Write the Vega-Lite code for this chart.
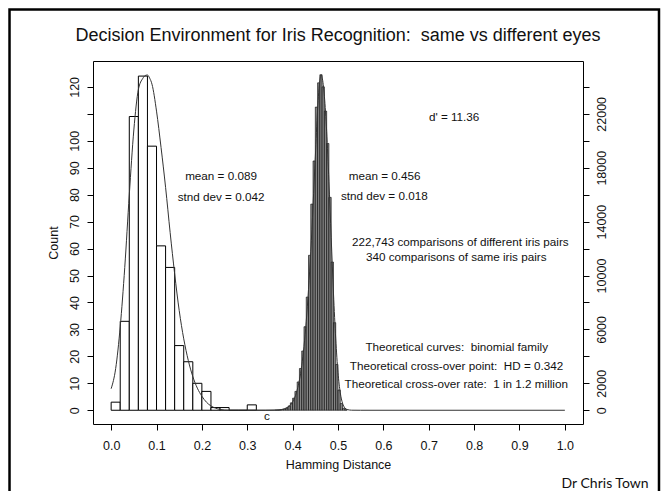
{
  "$schema": "https://vega.github.io/schema/vega-lite/v6.json",
  "autosize": {"type": "none"},
  "padding": {"left": 93, "top": 61, "right": 83, "bottom": 67},
  "width": 490,
  "height": 363,
  "background": "white",
  "config": {
    "view": {"stroke": "black", "strokeWidth": 1},
    "font": "Liberation Sans",
    "axis": {
      "grid": false,
      "domain": false,
      "tickColor": "black",
      "tickSize": 6,
      "tickWidth": 1,
      "labelColor": "#111111",
      "titleColor": "#111111",
      "labelFont": "Liberation Sans",
      "titleFont": "Liberation Sans",
      "labelFontSize": 12.5,
      "titleFontSize": 12.5,
      "titleFontWeight": "normal",
      "labelOverlap": false
    }
  },
  "datasets": {
    "same": [
      {"lo": 0.00, "hi": 0.02, "count": 3},
      {"lo": 0.02, "hi": 0.04, "count": 33},
      {"lo": 0.04, "hi": 0.06, "count": 109},
      {"lo": 0.06, "hi": 0.08, "count": 124},
      {"lo": 0.08, "hi": 0.10, "count": 98},
      {"lo": 0.10, "hi": 0.12, "count": 61},
      {"lo": 0.12, "hi": 0.14, "count": 53},
      {"lo": 0.14, "hi": 0.16, "count": 24},
      {"lo": 0.16, "hi": 0.18, "count": 18},
      {"lo": 0.18, "hi": 0.20, "count": 10},
      {"lo": 0.20, "hi": 0.22, "count": 7},
      {"lo": 0.22, "hi": 0.24, "count": 1},
      {"lo": 0.24, "hi": 0.26, "count": 1},
      {"lo": 0.26, "hi": 0.28, "count": 0},
      {"lo": 0.28, "hi": 0.30, "count": 0},
      {"lo": 0.30, "hi": 0.32, "count": 2}
    ],
    "diff": [
      {"lo": 0.360, "hi": 0.365, "count": 10},
      {"lo": 0.365, "hi": 0.370, "count": 15},
      {"lo": 0.370, "hi": 0.375, "count": 25},
      {"lo": 0.375, "hi": 0.380, "count": 50},
      {"lo": 0.380, "hi": 0.385, "count": 100},
      {"lo": 0.385, "hi": 0.390, "count": 180},
      {"lo": 0.390, "hi": 0.395, "count": 320},
      {"lo": 0.395, "hi": 0.400, "count": 550},
      {"lo": 0.400, "hi": 0.405, "count": 900},
      {"lo": 0.405, "hi": 0.410, "count": 1400},
      {"lo": 0.410, "hi": 0.415, "count": 2100},
      {"lo": 0.415, "hi": 0.420, "count": 3100},
      {"lo": 0.420, "hi": 0.425, "count": 4400},
      {"lo": 0.425, "hi": 0.430, "count": 6200},
      {"lo": 0.430, "hi": 0.435, "count": 8400},
      {"lo": 0.435, "hi": 0.440, "count": 11500},
      {"lo": 0.440, "hi": 0.445, "count": 15300},
      {"lo": 0.445, "hi": 0.450, "count": 18500},
      {"lo": 0.450, "hi": 0.455, "count": 22500},
      {"lo": 0.455, "hi": 0.460, "count": 24300},
      {"lo": 0.460, "hi": 0.465, "count": 24900},
      {"lo": 0.465, "hi": 0.470, "count": 24000},
      {"lo": 0.470, "hi": 0.475, "count": 22200},
      {"lo": 0.475, "hi": 0.480, "count": 19800},
      {"lo": 0.480, "hi": 0.485, "count": 15800},
      {"lo": 0.485, "hi": 0.490, "count": 11000},
      {"lo": 0.490, "hi": 0.495, "count": 6500},
      {"lo": 0.495, "hi": 0.500, "count": 3400},
      {"lo": 0.500, "hi": 0.505, "count": 1500},
      {"lo": 0.505, "hi": 0.510, "count": 500},
      {"lo": 0.510, "hi": 0.515, "count": 150},
      {"lo": 0.515, "hi": 0.520, "count": 40}
    ],
    "sameCurve": [
      {"hd": 0.000, "count": 8},
      {"hd": 0.010, "count": 15.5},
      {"hd": 0.020, "count": 31},
      {"hd": 0.030, "count": 53},
      {"hd": 0.040, "count": 80},
      {"hd": 0.050, "count": 104},
      {"hd": 0.060, "count": 119},
      {"hd": 0.070, "count": 123.2},
      {"hd": 0.075, "count": 124.2},
      {"hd": 0.080, "count": 124.4},
      {"hd": 0.085, "count": 123.2},
      {"hd": 0.090, "count": 121},
      {"hd": 0.100, "count": 111},
      {"hd": 0.110, "count": 97.5},
      {"hd": 0.120, "count": 82.7},
      {"hd": 0.130, "count": 66},
      {"hd": 0.140, "count": 50.6},
      {"hd": 0.150, "count": 37},
      {"hd": 0.160, "count": 26.5},
      {"hd": 0.170, "count": 18.5},
      {"hd": 0.180, "count": 12.5},
      {"hd": 0.190, "count": 8.2},
      {"hd": 0.200, "count": 5.2},
      {"hd": 0.210, "count": 3},
      {"hd": 0.220, "count": 1.6},
      {"hd": 0.230, "count": 0.8},
      {"hd": 0.240, "count": 0.3},
      {"hd": 0.260, "count": 0},
      {"hd": 0.360, "count": 0}
    ],
    "diffCurve": [
      {"hd": 0.300, "count": 0},
      {"hd": 0.340, "count": 2},
      {"hd": 0.360, "count": 15},
      {"hd": 0.370, "count": 35},
      {"hd": 0.380, "count": 90},
      {"hd": 0.390, "count": 240},
      {"hd": 0.400, "count": 620},
      {"hd": 0.410, "count": 1500},
      {"hd": 0.420, "count": 3300},
      {"hd": 0.430, "count": 6600},
      {"hd": 0.440, "count": 11800},
      {"hd": 0.450, "count": 18800},
      {"hd": 0.455, "count": 22300},
      {"hd": 0.460, "count": 24500},
      {"hd": 0.4625, "count": 24900},
      {"hd": 0.465, "count": 24700},
      {"hd": 0.470, "count": 23300},
      {"hd": 0.475, "count": 20700},
      {"hd": 0.480, "count": 17000},
      {"hd": 0.485, "count": 12800},
      {"hd": 0.490, "count": 8700},
      {"hd": 0.495, "count": 5300},
      {"hd": 0.500, "count": 2800},
      {"hd": 0.505, "count": 1300},
      {"hd": 0.510, "count": 520},
      {"hd": 0.515, "count": 180},
      {"hd": 0.520, "count": 55},
      {"hd": 0.530, "count": 5},
      {"hd": 0.550, "count": 0},
      {"hd": 1.000, "count": 0}
    ],
    "notes": [
      {"hd": 0.2422, "count": 86.9, "label": "mean = 0.089"},
      {"hd": 0.2422, "count": 79.2, "label": "stnd dev = 0.042"},
      {"hd": 0.6027, "count": 87.0, "label": "mean = 0.456"},
      {"hd": 0.6020, "count": 79.4, "label": "stnd dev = 0.018"},
      {"hd": 0.7560, "count": 108.9, "label": "d' = 11.36"},
      {"hd": 0.7696, "count": 62.5, "label": "222,743 comparisons of different iris pairs"},
      {"hd": 0.7606, "count": 56.9, "label": "340 comparisons of same iris pairs"},
      {"hd": 0.7617, "count": 23.3, "label": "Theoretical curves:\u00a0 binomial family"},
      {"hd": 0.7612, "count": 16.3, "label": "Theoretical cross-over point:\u00a0 HD = 0.342"},
      {"hd": 0.7606, "count": 9.65, "label": "Theoretical cross-over rate:\u00a0 1 in 1.2 million"},
      {"hd": 0.3435, "count": -2.2, "label": "c"}
    ]
  },
  "layer": [
    {
      "layer": [
        {
          "data": {"name": "same"},
          "mark": {"type": "rect", "fill": "white", "stroke": "black", "strokeWidth": 1},
          "encoding": {
            "x": {"field": "lo", "type": "quantitative", "title": "Hamming Distance", "scale": {"domain": [-0.04, 1.04], "nice": false, "zero": false},
              "axis": {"title": "Hamming Distance", "values": [0, 0.1, 0.2, 0.3, 0.4, 0.5, 0.6, 0.7, 0.8, 0.9, 1.0], "tickCount": 11, "format": ".1f", "labelOverlap": false, "labelPadding": 9, "titlePadding": 7}},
            "x2": {"field": "hi"},
            "y": {"field": "count", "type": "quantitative", "title": "Count", "scale": {"domain": [-5.1, 129.6], "nice": false, "zero": false},
              "axis": {"orient": "left", "title": "Count", "values": [0, 10, 20, 30, 40, 50, 60, 70, 80, 90, 100, 110, 120], "tickCount": 13, "labelExpr": "datum.value == 110 ? '' : datum.label", "labelOverlap": false, "labelAngle": -90, "labelAlign": "center", "labelBaseline": "bottom", "labelPadding": 6, "titlePadding": 8}},
            "y2": {"datum": 0}
          }
        },
        {
          "data": {"name": "sameCurve"},
          "mark": {"type": "line", "stroke": "#333333", "strokeWidth": 1, "interpolate": "monotone"},
          "encoding": {
            "x": {"field": "hd", "type": "quantitative", "title": "Hamming Distance", "scale": {"domain": [-0.04, 1.04], "nice": false, "zero": false},
              "axis": {"title": "Hamming Distance", "values": [0, 0.1, 0.2, 0.3, 0.4, 0.5, 0.6, 0.7, 0.8, 0.9, 1.0], "tickCount": 11, "format": ".1f", "labelOverlap": false, "labelPadding": 9, "titlePadding": 7}},
            "y": {"field": "count", "type": "quantitative", "title": "Count", "scale": {"domain": [-5.1, 129.6], "nice": false, "zero": false},
              "axis": {"orient": "left", "title": "Count", "values": [0, 10, 20, 30, 40, 50, 60, 70, 80, 90, 100, 110, 120], "tickCount": 13, "labelExpr": "datum.value == 110 ? '' : datum.label", "labelOverlap": false, "labelAngle": -90, "labelAlign": "center", "labelBaseline": "bottom", "labelPadding": 6, "titlePadding": 8}}
          }
        },
        {
          "data": {"name": "notes"},
          "mark": {"type": "text", "font": "Liberation Sans", "fontSize": 11.7, "color": "#111111", "align": "center", "baseline": "middle"},
          "encoding": {
            "x": {"field": "hd", "type": "quantitative", "title": "Hamming Distance", "scale": {"domain": [-0.04, 1.04], "nice": false, "zero": false},
              "axis": {"title": "Hamming Distance", "values": [0, 0.1, 0.2, 0.3, 0.4, 0.5, 0.6, 0.7, 0.8, 0.9, 1.0], "tickCount": 11, "format": ".1f", "labelOverlap": false, "labelPadding": 9, "titlePadding": 7}},
            "y": {"field": "count", "type": "quantitative", "title": "Count", "scale": {"domain": [-5.1, 129.6], "nice": false, "zero": false},
              "axis": {"orient": "left", "title": "Count", "values": [0, 10, 20, 30, 40, 50, 60, 70, 80, 90, 100, 110, 120], "tickCount": 13, "labelExpr": "datum.value == 110 ? '' : datum.label", "labelOverlap": false, "labelAngle": -90, "labelAlign": "center", "labelBaseline": "bottom", "labelPadding": 6, "titlePadding": 8}},
            "text": {"field": "label", "type": "nominal"}
          }
        },
        {
          "data": {"values": [{}]},
          "mark": {"type": "rect", "fillOpacity": 0, "stroke": "black", "strokeWidth": 2.5, "clip": false},
          "encoding": {
            "x": {"datum": -0.224, "type": "quantitative", "title": "Hamming Distance", "scale": {"domain": [-0.04, 1.04], "nice": false, "zero": false},
              "axis": {"title": "Hamming Distance", "values": [0, 0.1, 0.2, 0.3, 0.4, 0.5, 0.6, 0.7, 0.8, 0.9, 1.0], "tickCount": 11, "format": ".1f", "labelOverlap": false, "labelPadding": 9, "titlePadding": 7}},
            "x2": {"datum": 1.2075},
            "y": {"datum": 148.7, "type": "quantitative", "title": "Count", "scale": {"domain": [-5.1, 129.6], "nice": false, "zero": false},
              "axis": {"orient": "left", "title": "Count", "values": [0, 10, 20, 30, 40, 50, 60, 70, 80, 90, 100, 110, 120], "tickCount": 13, "labelExpr": "datum.value == 110 ? '' : datum.label", "labelOverlap": false, "labelAngle": -90, "labelAlign": "center", "labelBaseline": "bottom", "labelPadding": 6, "titlePadding": 8}},
            "y2": {"datum": -40}
          }
        },
        {
          "data": {"values": [{}]},
          "mark": {"type": "text", "text": "Decision Environment for Iris Recognition:\u00a0 same vs different eyes", "font": "Liberation Sans", "fontSize": 18, "color": "#111111", "align": "center", "baseline": "middle"},
          "encoding": {
            "x": {"datum": 0.5, "type": "quantitative", "title": "Hamming Distance", "scale": {"domain": [-0.04, 1.04], "nice": false, "zero": false},
              "axis": {"title": "Hamming Distance", "values": [0, 0.1, 0.2, 0.3, 0.4, 0.5, 0.6, 0.7, 0.8, 0.9, 1.0], "tickCount": 11, "format": ".1f", "labelOverlap": false, "labelPadding": 9, "titlePadding": 7}},
            "y": {"datum": 139.0, "type": "quantitative", "title": "Count", "scale": {"domain": [-5.1, 129.6], "nice": false, "zero": false},
              "axis": {"orient": "left", "title": "Count", "values": [0, 10, 20, 30, 40, 50, 60, 70, 80, 90, 100, 110, 120], "tickCount": 13, "labelExpr": "datum.value == 110 ? '' : datum.label", "labelOverlap": false, "labelAngle": -90, "labelAlign": "center", "labelBaseline": "bottom", "labelPadding": 6, "titlePadding": 8}}
          }
        },
        {
          "data": {"values": [{}]},
          "mark": {"type": "text", "text": "Dr Chris Town", "font": "Lato", "fontSize": 14, "color": "#111111", "align": "right", "baseline": "middle"},
          "encoding": {
            "x": {"datum": 1.1845, "type": "quantitative", "title": "Hamming Distance", "scale": {"domain": [-0.04, 1.04], "nice": false, "zero": false},
              "axis": {"title": "Hamming Distance", "values": [0, 0.1, 0.2, 0.3, 0.4, 0.5, 0.6, 0.7, 0.8, 0.9, 1.0], "tickCount": 11, "format": ".1f", "labelOverlap": false, "labelPadding": 9, "titlePadding": 7}},
            "y": {"datum": -27.2, "type": "quantitative", "title": "Count", "scale": {"domain": [-5.1, 129.6], "nice": false, "zero": false},
              "axis": {"orient": "left", "title": "Count", "values": [0, 10, 20, 30, 40, 50, 60, 70, 80, 90, 100, 110, 120], "tickCount": 13, "labelExpr": "datum.value == 110 ? '' : datum.label", "labelOverlap": false, "labelAngle": -90, "labelAlign": "center", "labelBaseline": "bottom", "labelPadding": 6, "titlePadding": 8}}
          }
        }
      ]
    },
    {
      "layer": [
        {
          "data": {"name": "diff"},
          "mark": {"type": "rect", "fill": "#858585", "stroke": "black", "strokeWidth": 0.6},
          "encoding": {
            "x": {"field": "lo", "type": "quantitative", "title": "Hamming Distance", "scale": {"domain": [-0.04, 1.04], "nice": false, "zero": false},
              "axis": {"title": "Hamming Distance", "values": [0, 0.1, 0.2, 0.3, 0.4, 0.5, 0.6, 0.7, 0.8, 0.9, 1.0], "tickCount": 11, "format": ".1f", "labelOverlap": false, "labelPadding": 9, "titlePadding": 7}},
            "x2": {"field": "hi"},
            "y": {"field": "count", "type": "quantitative", "title": null, "scale": {"domain": [-1020, 25920], "nice": false, "zero": false},
              "axis": {"orient": "right", "title": null, "values": [0, 2000, 4000, 6000, 8000, 10000, 12000, 14000, 16000, 18000, 20000, 22000, 24000], "tickCount": 13, "format": "d", "labelExpr": "(datum.value == 0 || datum.value % 4000 == 2000) ? datum.label : ''", "labelOverlap": false, "labelAngle": -90, "labelAlign": "center", "labelBaseline": "top", "labelPadding": 6}},
            "y2": {"datum": 0}
          }
        },
        {
          "data": {"name": "diffCurve"},
          "mark": {"type": "line", "stroke": "#333333", "strokeWidth": 1, "interpolate": "monotone"},
          "encoding": {
            "x": {"field": "hd", "type": "quantitative", "title": "Hamming Distance", "scale": {"domain": [-0.04, 1.04], "nice": false, "zero": false},
              "axis": {"title": "Hamming Distance", "values": [0, 0.1, 0.2, 0.3, 0.4, 0.5, 0.6, 0.7, 0.8, 0.9, 1.0], "tickCount": 11, "format": ".1f", "labelOverlap": false, "labelPadding": 9, "titlePadding": 7}},
            "y": {"field": "count", "type": "quantitative", "title": null, "scale": {"domain": [-1020, 25920], "nice": false, "zero": false},
              "axis": {"orient": "right", "title": null, "values": [0, 2000, 4000, 6000, 8000, 10000, 12000, 14000, 16000, 18000, 20000, 22000, 24000], "tickCount": 13, "format": "d", "labelExpr": "(datum.value == 0 || datum.value % 4000 == 2000) ? datum.label : ''", "labelOverlap": false, "labelAngle": -90, "labelAlign": "center", "labelBaseline": "top", "labelPadding": 6}}
          }
        }
      ]
    }
  ],
  "resolve": {"scale": {"y": "independent"}, "axis": {"y": "independent"}}
}
